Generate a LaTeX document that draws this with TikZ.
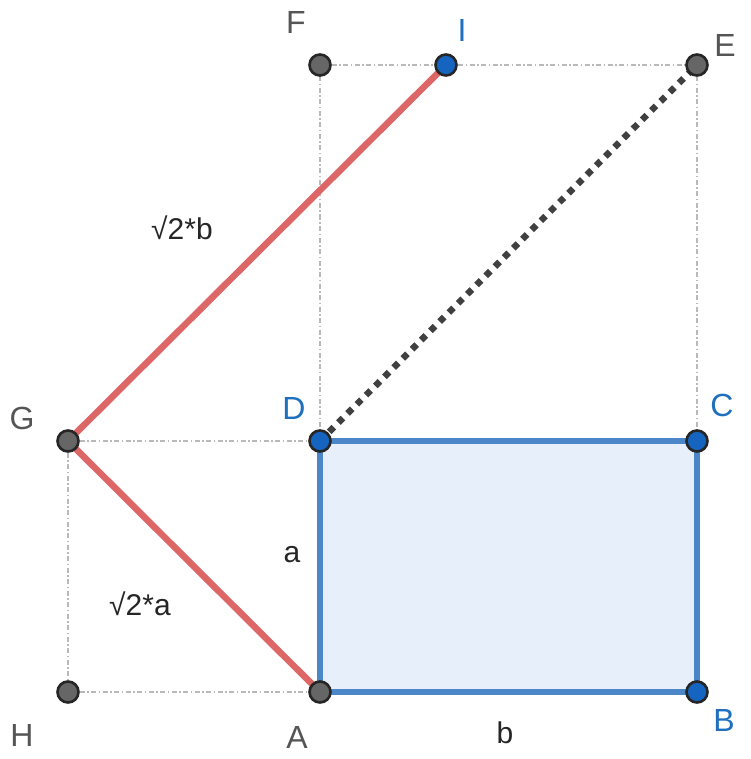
\documentclass[tikz,border=0pt]{standalone}
\usepackage{fontspec}
\setmainfont{Liberation Sans}
\begin{document}
\begin{tikzpicture}[x=1pt,y=-1pt,
  guide/.style={draw=gray!55, line width=1.6pt, dash pattern=on 5pt off 2.5pt on 1.5pt off 2.5pt},
  ptgray/.style={circle, fill=ptg, draw=black!85, line width=2.6pt, minimum size=21pt, inner sep=0pt},
  ptblue/.style={circle, fill=ptb, draw=black!85, line width=2.6pt, minimum size=21pt, inner sep=0pt},
  lblg/.style={text=labg, font=\fontsize{32}{36}\selectfont},
  lblb/.style={text=labb, font=\fontsize{32}{36}\selectfont},
  seglbl/.style={text=black!85, font=\fontsize{30}{34}\selectfont},
  redseg/.style={draw=redc, line width=6.5pt},
  blueseg/.style={draw=bluec, line width=6pt}]
\definecolor{ptg}{HTML}{666666}
\definecolor{ptb}{HTML}{1565C0}
\definecolor{labg}{HTML}{555555}
\definecolor{labb}{HTML}{1E6FC0}
\definecolor{redc}{HTML}{DD6666}
\definecolor{bluec}{HTML}{4A86C8}
\definecolor{fillc}{HTML}{E6EFFA}
\useasboundingbox (0,0) rectangle (750,759);
\fill[white] (0,0) rectangle (750,759);
% coordinates
\coordinate (A) at (320,692);
\coordinate (B) at (697,692);
\coordinate (C) at (697,441);
\coordinate (D) at (320,441);
\coordinate (E) at (697,65);
\coordinate (F) at (320,65);
\coordinate (I) at (446,65);
\coordinate (G) at (68,441);
\coordinate (H) at (68,692);
% guides
\draw[guide] (F) -- (E);
\draw[guide] (F) -- (D);
\draw[guide] (E) -- (C);
\draw[guide] (G) -- (D);
\draw[guide] (G) -- (H);
\draw[guide] (H) -- (A);
% rectangle
\fill[fillc] (A) rectangle (C);
\draw[blueseg] (A) -- (B) -- (C) -- (D) -- cycle;
% red
\draw[redseg] (I) -- (G) -- (A);
% dotted diagonal
\draw[draw=black!75, line width=6.5pt, dash pattern=on 6.5pt off 6.5pt] (D) -- (E);
% points
\node[ptgray] (pF) at (F) {};
\node[ptblue] (pI) at (I) {};
\node[ptgray] (pE) at (E) {};
\node[ptgray] (pG) at (G) {};
\node[ptblue] (pD) at (D) {};
\node[ptblue] (pC) at (C) {};
\node[ptgray] (pH) at (H) {};
\node[ptgray] (pA) at (A) {};
\node[ptblue] (pB) at (B) {};
% labels
\node[lblg] (lF) at (296,22) {F};
\node[lblb] (lI) at (462,30) {I};
\node[lblg] (lE) at (725,45) {E};
\node[lblg] (lG) at (22,418) {G};
\node[lblb] (lD) at (294,408) {D};
\node[lblb] (lC) at (722,405) {C};
\node[lblg] (lH) at (22,735) {H};
\node[lblg] (lA) at (297,737) {A};
\node[lblb] (lB) at (724,720) {B};
\node[seglbl] (lb) at (505,733) {b};
\node[seglbl] (la) at (292,555) {a};
\node[seglbl] (lsa) at (140,604) {√2*a};
\node[seglbl] (lsb) at (182,228) {√2*b};
\end{tikzpicture}
\end{document}
